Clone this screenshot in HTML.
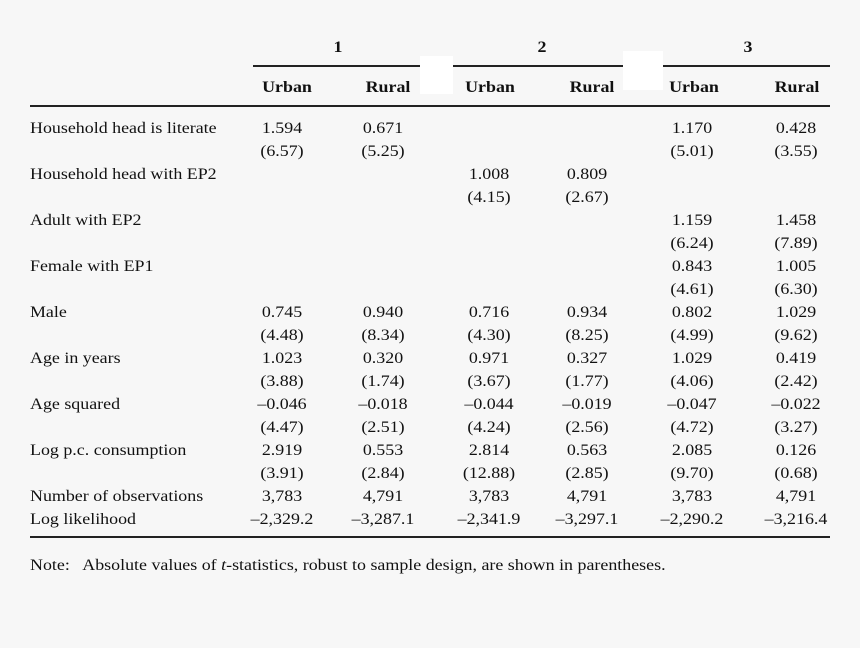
<!DOCTYPE html>
<html><head><meta charset="utf-8"><style>
html,body{margin:0;padding:0}
body{width:860px;height:648px;background:#f7f7f7;position:relative;overflow:hidden;font-family:"Liberation Serif",serif;font-size:16px;color:#111}
.t{position:absolute;white-space:nowrap;line-height:20px;transform:scaleX(1.12);transform-origin:0 0}
.c{transform:translateX(-50%) scaleX(1.12);transform-origin:50% 0}
.b{font-weight:bold}
.l{position:absolute;background:#222}
.w{position:absolute;background:#fff}
</style></head><body>
<div class="l" style="left:253px;top:65px;width:577px;height:2px"></div>
<div class="l" style="left:30px;top:105px;width:800px;height:2px"></div>
<div class="l" style="left:30px;top:536px;width:800px;height:2px"></div>
<div class="w" style="left:420px;top:56px;width:33px;height:38px"></div>
<div class="w" style="left:623px;top:51px;width:40px;height:39px"></div>
<div class="t c b" style="left:338px;top:38px">1</div>
<div class="t c b" style="left:542px;top:38px">2</div>
<div class="t c b" style="left:748px;top:38px">3</div>
<div class="t c b" style="left:287px;top:78px">Urban</div>
<div class="t c b" style="left:388px;top:78px">Rural</div>
<div class="t c b" style="left:490px;top:78px">Urban</div>
<div class="t c b" style="left:592px;top:78px">Rural</div>
<div class="t c b" style="left:694px;top:78px">Urban</div>
<div class="t c b" style="left:797px;top:78px">Rural</div>
<div id="rows"></div>
<div class="t" style="left:30px;top:556px">Note:&nbsp;&nbsp; Absolute values of <i>t</i>-statistics, robust to sample design, are shown in parentheses.</div>
<script>
var xs=[282,383,489,587,692,796];
var d=[
["Household head is literate",["1.594","0.671","","","1.170","0.428"],["(6.57)","(5.25)","","","(5.01)","(3.55)"]],
["Household head with EP2",["","","1.008","0.809","",""],["","","(4.15)","(2.67)","",""]],
["Adult with EP2",["","","","","1.159","1.458"],["","","","","(6.24)","(7.89)"]],
["Female with EP1",["","","","","0.843","1.005"],["","","","","(4.61)","(6.30)"]],
["Male",["0.745","0.940","0.716","0.934","0.802","1.029"],["(4.48)","(8.34)","(4.30)","(8.25)","(4.99)","(9.62)"]],
["Age in years",["1.023","0.320","0.971","0.327","1.029","0.419"],["(3.88)","(1.74)","(3.67)","(1.77)","(4.06)","(2.42)"]],
["Age squared",["\u20130.046","\u20130.018","\u20130.044","\u20130.019","\u20130.047","\u20130.022"],["(4.47)","(2.51)","(4.24)","(2.56)","(4.72)","(3.27)"]],
["Log p.c. consumption",["2.919","0.553","2.814","0.563","2.085","0.126"],["(3.91)","(2.84)","(12.88)","(2.85)","(9.70)","(0.68)"]],
["Number of observations",["3,783","4,791","3,783","4,791","3,783","4,791"]],
["Log likelihood",["\u20132,329.2","\u20133,287.1","\u20132,341.9","\u20133,297.1","\u20132,290.2","\u20133,216.4"]]
];
var h="",y=119;
d.forEach(function(r){
 h+='<div class="t" style="left:30px;top:'+y+'px">'+r[0]+'</div>';
 r[1].forEach(function(v,i){if(v)h+='<div class="t c" style="left:'+xs[i]+'px;top:'+y+'px">'+v+'</div>';});
 y+=23;
 if(r[2]){r[2].forEach(function(v,i){if(v)h+='<div class="t c" style="left:'+xs[i]+'px;top:'+y+'px">'+v+'</div>';});y+=23;}
});
document.getElementById("rows").innerHTML=h;
</script>
</body></html>
